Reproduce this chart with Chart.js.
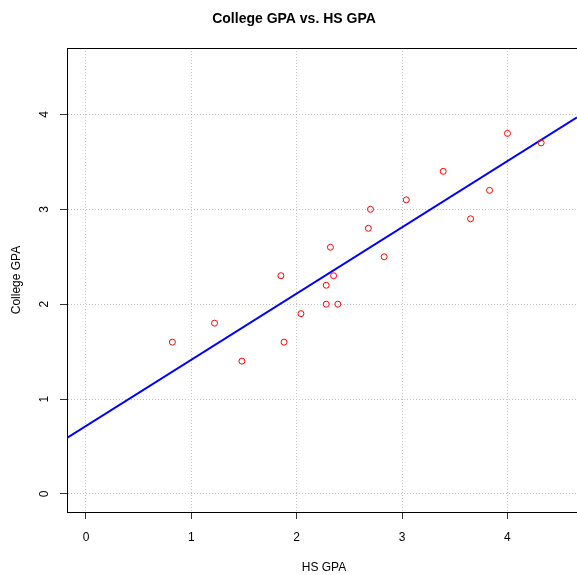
<!DOCTYPE html>
<html>
<head>
<meta charset="utf-8">
<script src="https://cdn.jsdelivr.net/npm/chart.js@4"></script>
<style>
  html, body { margin: 0; padding: 0; background: #fff; }
  canvas { display: block; }
</style>
</head>
<body>
<canvas id="gpaChart" width="577" height="575"></canvas>
<script>
const hsGpa = [0.82, 1.22, 1.48, 1.85, 1.88, 2.04, 2.28, 2.28, 2.32, 2.35,
               2.39, 2.68, 2.70, 2.83, 3.04, 3.39, 3.65, 3.83, 4.00, 4.32];
const collegeGpa = [1.6, 1.8, 1.4, 2.3, 1.6, 1.9, 2.2, 2.0, 2.6, 2.3,
                    2.0, 2.8, 3.0, 2.5, 3.1, 3.4, 2.9, 3.2, 3.8, 3.7];

// fitted line, taken at the two edges of the plot box
const fitX = [-0.18, 4.66];
const fitY = [0.59, 3.97];

const xTicks = [0, 1, 2, 3, 4];
const yTicks = [0, 1, 2, 3, 4];

const titleText = 'College GPA vs. HS GPA';
const xTitle = 'HS GPA';
const yTitle = 'College GPA';

const FONT = '"Liberation Sans", Arial, Helvetica, sans-serif';

// title, tick labels, axis titles and the top edge of the box
const labelsPlugin = {
    id: 'labels',
    afterDraw(chart) {
        const { ctx, chartArea, scales } = chart;
        const xs = scales.x, ys = scales.y;
        ctx.save();
        ctx.fillStyle = '#000';

        ctx.strokeStyle = '#000';
        ctx.lineWidth = 1;
        ctx.beginPath();
        ctx.moveTo(chartArea.left, chartArea.top + 0.5);
        ctx.lineTo(chartArea.right, chartArea.top + 0.5);
        ctx.stroke();

        ctx.font = 'bold 14px ' + FONT;
        ctx.textAlign = 'center';
        ctx.textBaseline = 'middle';
        ctx.fillText(titleText, 294, 19);

        ctx.font = '12px ' + FONT;
        xTicks.forEach(v => ctx.fillText(String(v), xs.getPixelForValue(v), 538));
        ctx.fillText(xTitle, 324, 568);

        yTicks.forEach(v => {
            ctx.save();
            ctx.translate(45, ys.getPixelForValue(v));
            ctx.rotate(-Math.PI / 2);
            ctx.fillText(String(v), 0, 0);
            ctx.restore();
        });

        ctx.save();
        ctx.translate(17, (chartArea.top + chartArea.bottom) / 2);
        ctx.rotate(-Math.PI / 2);
        ctx.fillText(yTitle, 0, 0);
        ctx.restore();

        ctx.restore();
    }
};

const gridOpts = {
    color: '#c4c4c4',
    lineWidth: 1,
    drawTicks: true,
    tickLength: 7,
    tickColor: '#333',
    tickBorderDash: [],
    tickWidth: 1
};

// in v4 the border dash is what dashes the grid lines
const borderOpts = { display: true, color: '#000', width: 1, dash: [1, 2] };

new Chart(document.getElementById('gpaChart'), {
    type: 'scatter',
    data: {
        datasets: [
            {
                label: 'Students',
                data: hsGpa.map((x, i) => ({ x: x, y: collegeGpa[i] })),
                pointRadius: 3,
                pointHoverRadius: 3,
                pointBorderWidth: 1,
                pointBorderColor: '#ff0000',
                pointBackgroundColor: 'rgba(0,0,0,0)',
                order: 1
            },
            {
                label: 'Fit',
                type: 'line',
                data: fitX.map((x, i) => ({ x: x, y: fitY[i] })),
                borderColor: '#0000ff',
                borderWidth: 2,
                pointRadius: 0,
                fill: false,
                order: 2
            }
        ]
    },
    options: {
        responsive: false,
        animation: false,
        devicePixelRatio: 1,
        layout: { autoPadding: false, padding: { top: 48, left: 0, right: 0, bottom: 0 } },
        plugins: {
            legend: { display: false },
            title: { display: false },
            tooltip: { enabled: false }
        },
        scales: {
            x: {
                type: 'linear',
                min: -0.18,
                max: 4.66,
                ticks: { display: false, stepSize: 1, includeBounds: false },
                grid: gridOpts,
                border: borderOpts,
                afterFit: (scale) => { scale.height = 63; }
            },
            y: {
                type: 'linear',
                min: -0.19,
                max: 4.7,
                ticks: { display: false, stepSize: 1, includeBounds: false },
                grid: gridOpts,
                border: borderOpts,
                afterFit: (scale) => { scale.width = 67; }
            }
        }
    },
    plugins: [labelsPlugin]
});
</script>
</body>
</html>
